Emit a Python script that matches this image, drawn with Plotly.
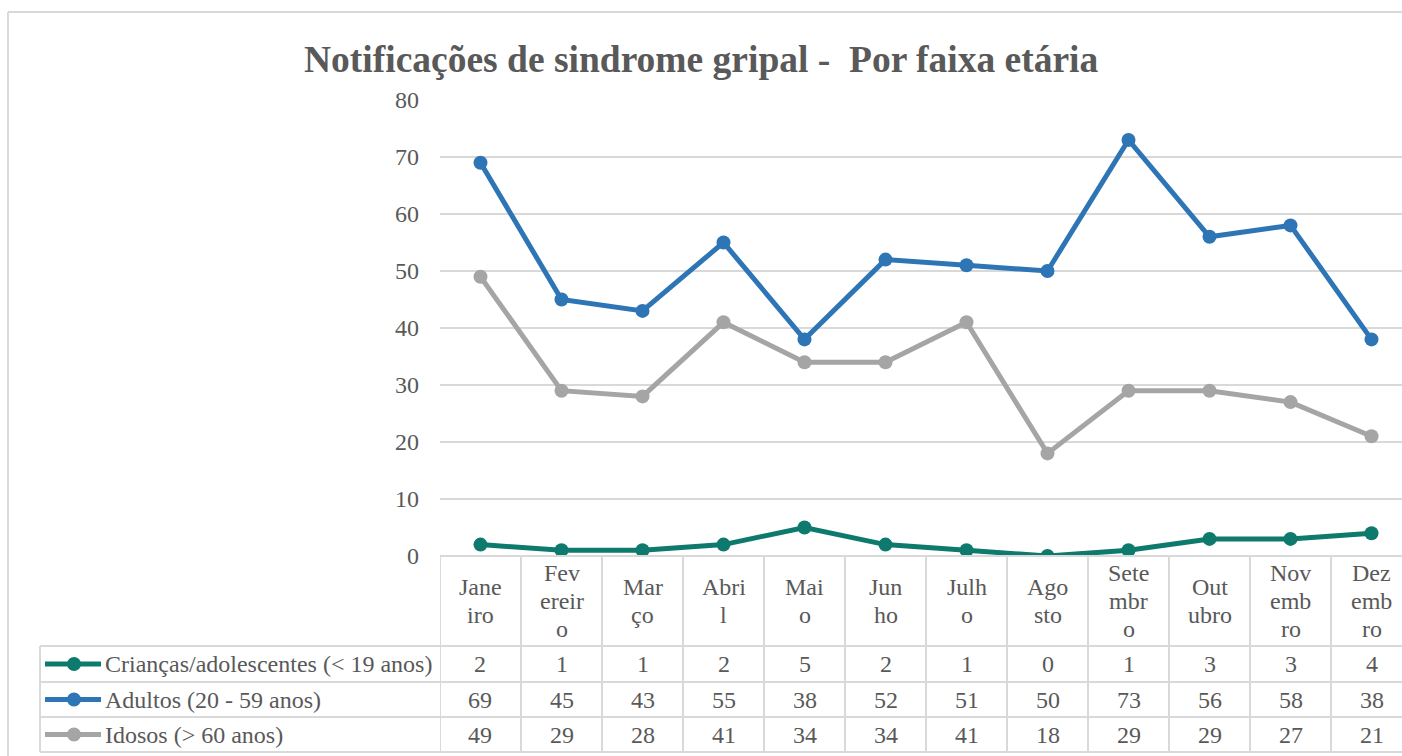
import plotly.graph_objects as go

# ---- data ----
months = ["Janeiro", "Fevereiro", "Março", "Abril", "Maio", "Junho", "Julho",
          "Agosto", "Setembro", "Outubro", "Novembro", "Dezembro"]
month_labels = ["Jane<br>iro", "Fev<br>ereir<br>o", "Mar<br>ço", "Abri<br>l", "Mai<br>o",
                "Jun<br>ho", "Julh<br>o", "Ago<br>sto", "Sete<br>mbr<br>o", "Out<br>ubro",
                "Nov<br>emb<br>ro", "Dez<br>emb<br>ro"]
series_names = ["Crianças/adolescentes (< 19 anos)", "Adultos (20 - 59 anos)", "Idosos (> 60 anos)"]
criancas = [2, 1, 1, 2, 5, 2, 1, 0, 1, 3, 3, 4]
adultos = [69, 45, 43, 55, 38, 52, 51, 50, 73, 56, 58, 38]
idosos = [49, 29, 28, 41, 34, 34, 41, 18, 29, 29, 27, 21]
series_values = [criancas, adultos, idosos]
colors = ["#0E7A6D", "#2E75B6", "#A5A5A5"]
y_ticks = [0, 10, 20, 30, 40, 50, 60, 70, 80]

W, H = 1402, 756
def px(x):
    return x / W
def py(y):
    return 1 - y / H

FONT = "Liberation Serif, Times New Roman, serif"
TXT = "#595959"
GRID = "#D9D9D9"
FS = 24

plot_left, plot_top, plot_bottom = 440, 100, 556
col_w = 81.0
xr_max = -0.5 + (W - plot_left) / col_w

fig = go.Figure()
x_idx = list(range(len(months)))
for name, vals, c in zip(series_names, series_values, colors):
    fig.add_trace(go.Scatter(
        x=x_idx, y=vals, name=name, mode="lines+markers",
        line=dict(color=c, width=5),
        marker=dict(color=c, size=14),
        showlegend=False, hoverinfo="x+y",
    ))

shapes = []
annotations = []
LW = 2
# outer chart border
shapes.append(dict(type="line", xref="paper", yref="paper", x0=px(8), x1=px(8), y0=py(12), y1=0,
                   line=dict(color=GRID, width=LW)))
shapes.append(dict(type="line", xref="paper", yref="paper", x0=px(8), x1=1, y0=py(12), y1=py(12),
                   line=dict(color=GRID, width=LW)))

# table lines
row_lines = [646, 682, 717, 752]
shapes.append(dict(type="line", xref="paper", yref="paper", x0=px(plot_left), x1=1,
                   y0=py(plot_bottom), y1=py(plot_bottom), line=dict(color=GRID, width=LW)))
for i in range(len(months) + 1):
    shapes.append(dict(type="line", xref="x", yref="paper", x0=i - 0.5, x1=i - 0.5,
                       y0=py(plot_bottom), y1=py(752), line=dict(color=GRID, width=LW)))
for yl in row_lines:
    shapes.append(dict(type="line", xref="paper", yref="paper", x0=px(40), x1=1,
                       y0=py(yl), y1=py(yl), line=dict(color=GRID, width=LW)))
shapes.append(dict(type="line", xref="paper", yref="paper", x0=px(40), x1=px(40),
                   y0=py(646), y1=py(752), line=dict(color=GRID, width=LW)))

# header labels (one annotation per wrapped line, Excel-like line spacing)
hdr_c, lh = 601, 28
for i, lab in enumerate(month_labels):
    parts = lab.split("<br>")
    n = len(parts)
    for k, part in enumerate(parts):
        yy = hdr_c + (k - (n - 1) / 2) * lh
        annotations.append(dict(x=i, xref="x", y=py(yy), yref="paper", text=part, showarrow=False,
                                font=dict(family=FONT, size=FS, color=TXT),
                                xanchor="center", yanchor="middle"))

# rows
for r, (name, vals, c) in enumerate(zip(series_names, series_values, colors)):
    yc = (row_lines[r] + row_lines[r + 1]) / 2
    shapes.append(dict(type="line", xref="paper", yref="paper", x0=px(45), x1=px(101),
                       y0=py(yc), y1=py(yc), line=dict(color=c, width=5)))
    shapes.append(dict(type="circle", xref="paper", yref="paper", x0=px(67), x1=px(81),
                       y0=py(yc + 7), y1=py(yc - 7), fillcolor=c, line=dict(color=c, width=0)))
    annotations.append(dict(x=px(103), xref="paper", y=py(yc), yref="paper", text=name,
                            showarrow=False, xanchor="left", yanchor="middle",
                            font=dict(family=FONT, size=FS, color=TXT)))
    for i, v in enumerate(vals):
        annotations.append(dict(x=i, xref="x", y=py(yc), yref="paper", text=str(v),
                                showarrow=False, xanchor="center", yanchor="middle",
                                font=dict(family=FONT, size=FS, color=TXT)))

# title
annotations.append(dict(x=px(701), xref="paper", y=py(60), yref="paper",
                        text="<b>Notificações de sindrome gripal -  Por faixa etária</b>",
                        showarrow=False, xanchor="center", yanchor="middle",
                        font=dict(family=FONT, size=37.5, color=TXT)))

fig.update_layout(
    width=W, height=H, autosize=False,
    margin=dict(l=0, r=0, t=0, b=0, pad=0, autoexpand=False),
    paper_bgcolor="white", plot_bgcolor="white",
    shapes=shapes, annotations=annotations,
    xaxis=dict(domain=[px(plot_left), 1], range=[-0.5, xr_max], showticklabels=False,
               showgrid=False, zeroline=False, showline=False, ticks="", automargin=False),
    yaxis=dict(domain=[py(plot_bottom), py(plot_top)], range=[0, 80], tickvals=y_ticks,
               showgrid=True, gridcolor=GRID, gridwidth=2, zeroline=False, showline=False,
               ticks="", ticklabelstandoff=20, automargin=False,
               tickfont=dict(family=FONT, size=FS, color=TXT)),
)

fig.write_html(
    "out.html",
    config={"displayModeBar": False},
    post_script=("document.documentElement.style.overflow='hidden';"
                 "document.body.style.margin='0';document.body.style.overflow='hidden';"
                 "var d=document.getElementById('{plot_id}');"
                 "d.style.position='fixed';d.style.top='0px';d.style.left='0px';"),
)
